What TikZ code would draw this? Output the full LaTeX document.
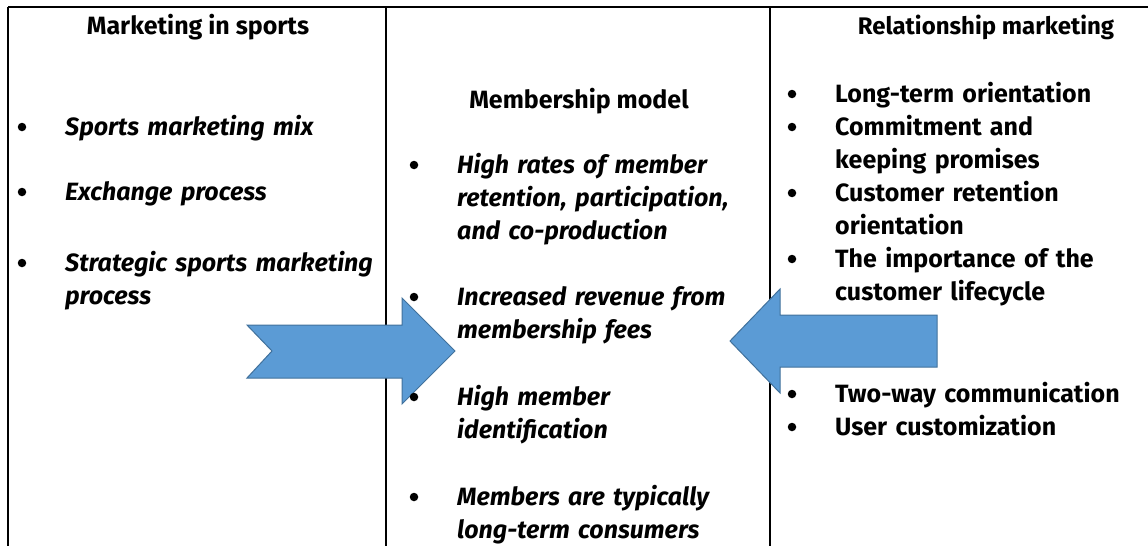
\documentclass[tikz,border=0pt]{standalone}
\usepackage{fontspec}
\setmainfont{Fira Sans}[BoldFont={Fira Sans Bold}, BoldItalicFont={Fira Sans Bold Italic}]
\definecolor{arrowblue}{HTML}{5B9BD5}
\definecolor{arrowedge}{HTML}{41719C}
\begin{document}
\begin{tikzpicture}[x=1pt,y=-1pt,
  rule/.style={line width=1.6pt, black},
  blockarrow/.style={fill=arrowblue, draw=arrowedge, line width=1pt, line join=miter},
  heading/.style={font=\fontsize{25}{33}\selectfont\bfseries, inner sep=0pt, anchor=base},
  itemtext/.style={font=\fontsize{25}{33}\selectfont\bfseries\itshape, inner sep=0pt,
    anchor=base west, text width=340pt, align=left},
  plaintext/.style={itemtext, font=\fontsize{25}{33}\selectfont\bfseries},
  bul/.style={circle, fill=black, inner sep=0pt, minimum size=8.5pt}]
\useasboundingbox (0,0) rectangle (1148,546);

% table frame: top rule and three column rules
\coordinate (tl) at (8,7);
\coordinate (tr) at (1148,7);
\coordinate (bl) at (8,546);
\coordinate (c1t) at (386,7);
\coordinate (c1b) at (386,546);
\coordinate (c2t) at (770,7);
\coordinate (c2b) at (770,546);
\draw[rule] (tl) -- (tr);
\draw[rule] (tl) -- (bl);
\draw[rule] (c1t) -- (c1b);
\draw[rule] (c2t) -- (c2b);

% block arrows pointing into the middle column
\draw[blockarrow] (247,325) -- (402,325) -- (402,298) -- (455,351) -- (402,404)
  -- (402,378) -- (247,378) -- (272,351) -- cycle;
\draw[blockarrow] (937,315) -- (780,315) -- (780,289) -- (730,341) -- (780,393)
  -- (780,367) -- (937,367) -- cycle;

% left column
\node[heading] (h1) at (198,34) {Marketing in sports};
\node[bul] (b11) at (22,127) {};
\node[itemtext] (i11) at (65,135) {Sports marketing mix};
\node[bul] (b12) at (22,192) {};
\node[itemtext] (i12) at (65,200) {Exchange process};
\node[bul] (b13) at (22,263) {};
\node[itemtext] (i13) at (65,271) {Strategic sports marketing\\process};

% middle column
\node[heading] (h2) at (579,108) {Membership model};
\node[bul] (b21) at (414,165) {};
\node[itemtext] (i21) at (457,173) {High rates of member\\retention, participation,\\and co-production};
\node[bul] (b22) at (414,297) {};
\node[itemtext] (i22) at (457,305) {Increased revenue from\\membership fees};
\node[bul] (b23) at (414,397) {};
\node[itemtext] (i23) at (457,405) {High member\\identification};
\node[bul] (b24) at (414,497) {};
\node[itemtext] (i24) at (457,505) {Members are typically\\long-term consumers};

% right column
\node[heading, font=\fontsize{24}{33}\selectfont\bfseries] (h3) at (986,34) {Relationship marketing};
\node[bul] (b31) at (792,94) {};
\node[plaintext] (i31) at (835,102) {Long-term orientation};
\node[bul] (b32) at (792,127) {};
\node[plaintext] (i32) at (835,135) {Commitment and\\keeping promises};
\node[bul] (b33) at (792,193) {};
\node[plaintext] (i33) at (835,201) {Customer retention\\orientation};
\node[bul] (b34) at (792,259) {};
\node[plaintext] (i34) at (835,267) {The importance of the\\customer lifecycle};
\node[bul] (b35) at (792,394) {};
\node[plaintext] (i35) at (835,402) {Two-way communication};
\node[bul] (b36) at (792,427) {};
\node[plaintext] (i36) at (835,435) {User customization};
\end{tikzpicture}
\end{document}
